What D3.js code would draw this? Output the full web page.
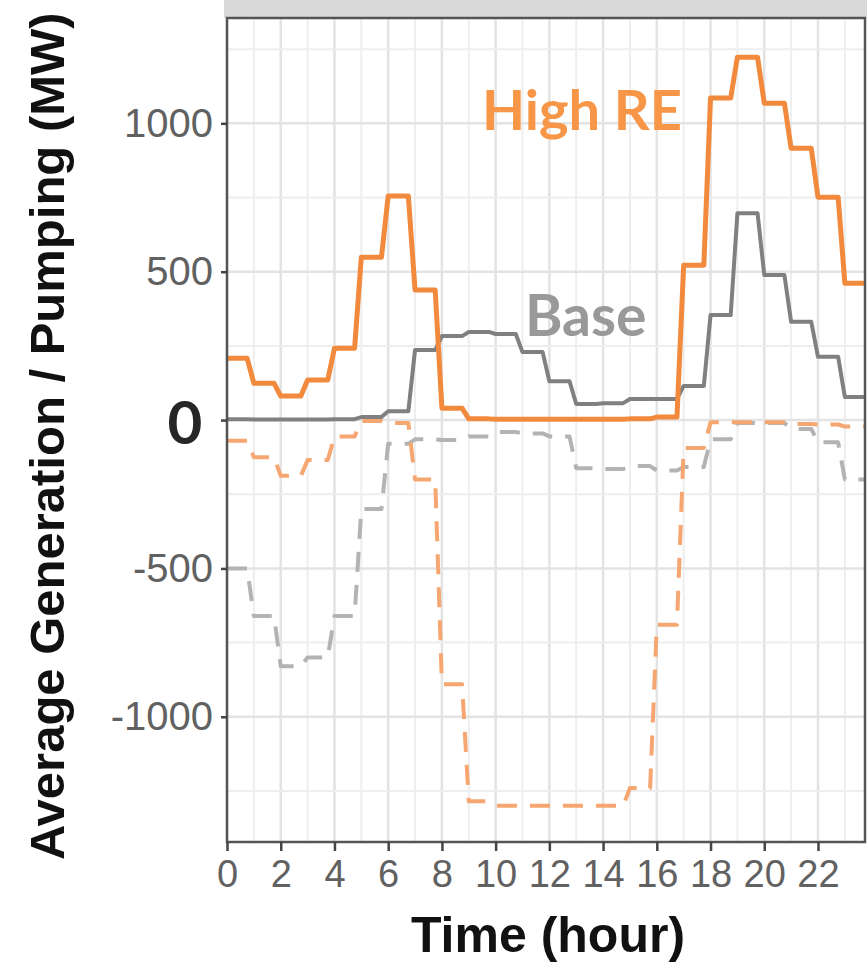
<!DOCTYPE html>
<html>
<head>
<meta charset="utf-8">
<script src="https://cdn.jsdelivr.net/npm/d3@7"></script>
<style>
  body { margin: 0; background: #fff; }
  #chart svg { display: block; }
</style>
</head>
<body>
<div id="chart"></div>
<script>
// hourly values (MW)
const hours = [0, 1, 2, 3, 4, 5, 6, 7, 8, 9, 10, 11, 12, 13, 14, 15, 16, 17, 18, 19, 20, 21, 22, 23]
const highREGen = [208, 124, 81, 135, 242, 549, 755, 438, 40, 4, 3, 3, 3, 3, 3, 4, 10, 522, 1085, 1223, 1068, 916, 751, 461]
const baseGen = [3, 2, 2, 2, 3, 10, 30, 236, 283, 297, 290, 229, 131, 54, 57, 71, 71, 115, 354, 697, 489, 331, 213, 78]
const highREPump = [-70, -125, -188, -135, -55, -3, -10, -200, -890, -1285, -1300, -1300, -1300, -1300, -1300, -1240, -690, -94, -7, -7, -7, -13, -15, -22]
const basePump = [-500, -660, -830, -800, -660, -300, -80, -65, -67, -55, -40, -45, -55, -162, -165, -155, -170, -158, -65, -10, -10, -30, -75, -200]

const xTicks = [0, 2, 4, 6, 8, 10, 12, 14, 16, 18, 20, 22]
const yTicks = [-1000, -500, 0, 500, 1000]
const yMinor = [-1250, -750, -250, 250, 750, 1250]

const W = 867
const H = 964
const panel = { left: 227, right: 865, top: 18, bottom: 842 }

const svg = d3.select('#chart')
  .append('svg')
  .attr('width', W)
  .attr('height', H)

const x = d3.scaleLinear()
  .domain([0, 23.75])
  .range([panel.left, panel.right])

const y = d3.scaleLinear()
  .domain([-1422, 1355])
  .range([panel.bottom, panel.top])

// strip on top of the panel
svg.append('rect')
  .attr('x', 224)
  .attr('y', 0)
  .attr('width', W - 224)
  .attr('height', panel.top)
  .attr('fill', '#d9d9d9')

// grid
const grid = svg.append('g')
grid.selectAll('.vgrid')
  .data(hours)
  .enter()
  .append('line')
  .attr('x1', d => x(d))
  .attr('x2', d => x(d))
  .attr('y1', panel.top)
  .attr('y2', panel.bottom)
  .attr('stroke', d => d % 2 === 0 ? '#e3e3e3' : '#eeeeee')
  .attr('stroke-width', d => d % 2 === 0 ? 2.5 : 2)

grid.selectAll('.hminor')
  .data(yMinor)
  .enter()
  .append('line')
  .attr('x1', panel.left)
  .attr('x2', panel.right)
  .attr('y1', d => y(d))
  .attr('y2', d => y(d))
  .attr('stroke', '#eeeeee')
  .attr('stroke-width', 2)

grid.selectAll('.hmajor')
  .data(yTicks)
  .enter()
  .append('line')
  .attr('x1', panel.left)
  .attr('x2', panel.right)
  .attr('y1', d => y(d))
  .attr('y2', d => y(d))
  .attr('stroke', '#e3e3e3')
  .attr('stroke-width', 2.5)

// each hour is held for three quarters, then the line moves to the next hour
function hourPoints (values) {
  const pts = []
  values.forEach((v, i) => {
    pts.push([hours[i], v])
    pts.push([hours[i] + 0.75, v])
  })
  return pts
}

const line = d3.line()
  .x(d => x(d[0]))
  .y(d => y(d[1]))

const series = [
  { values: basePump, color: '#b3b3b3', width: 4, dash: '20,13' },
  { values: baseGen, color: '#808080', width: 4, dash: null },
  { values: highREPump, color: '#f6a670', width: 4, dash: '20,13' },
  { values: highREGen, color: '#f28a3d', width: 5, dash: null }
]

series.forEach(s => {
  svg.append('path')
    .datum(hourPoints(s.values))
    .attr('d', line)
    .attr('fill', 'none')
    .attr('stroke', s.color)
    .attr('stroke-width', s.width)
    .attr('stroke-linejoin', 'round')
    .attr('stroke-dasharray', s.dash)
})

// panel border
svg.append('rect')
  .attr('x', panel.left)
  .attr('y', panel.top)
  .attr('width', panel.right - panel.left)
  .attr('height', panel.bottom - panel.top)
  .attr('fill', 'none')
  .attr('stroke', '#555')
  .attr('stroke-width', 2.5)

// axes
const xAxis = svg.append('g')
  .attr('transform', `translate(0,${panel.bottom})`)
  .call(d3.axisBottom(x).tickValues(xTicks).tickSize(9).tickPadding(9))
xAxis.select('.domain').remove()
xAxis.selectAll('line').attr('stroke', '#444').attr('stroke-width', 2.5)
xAxis.selectAll('text')
  .attr('fill', '#616161')
  .style('font-family', 'Liberation Sans, Arial, sans-serif')
  .style('font-size', '38px')

const yAxis = svg.append('g')
  .attr('transform', `translate(${panel.left},0)`)
  .call(d3.axisLeft(y).tickValues(yTicks).tickSize(6).tickPadding(8)
    .tickFormat(d => d === 0 ? '' : d))
yAxis.select('.domain').remove()
yAxis.selectAll('line').attr('stroke', '#444').attr('stroke-width', 2.5)
yAxis.selectAll('text')
  .attr('fill', '#616161')
  .style('font-family', 'Liberation Sans, Arial, sans-serif')
  .style('font-size', '40px')

// axis titles
svg.append('text')
  .attr('transform', `translate(64,860) rotate(-90)`)
  .attr('text-anchor', 'start')
  .style('font-family', 'Liberation Sans, Arial, sans-serif')
  .style('font-weight', 'bold')
  .style('font-size', '49px')
  .attr('fill', '#111')
  .text('Average Generation / Pumping (MW)')

svg.append('text')
  .attr('x', 548)
  .attr('y', 952)
  .attr('text-anchor', 'middle')
  .style('font-family', 'Liberation Sans, Arial, sans-serif')
  .style('font-weight', 'bold')
  .style('font-size', '50px')
  .attr('fill', '#111')
  .text('Time (hour)')

// annotations
svg.append('text')
  .attr('x', 482)
  .attr('y', 130)
  .style('font-family', 'Lato, Open Sans, sans-serif')
  .style('font-weight', 'bold')
  .style('font-size', '56px')
  .attr('fill', '#f79646')
  .text('High RE')

svg.append('text')
  .attr('x', 525)
  .attr('y', 336)
  .style('font-family', 'Lato, Open Sans, sans-serif')
  .style('font-weight', 'bold')
  .style('font-size', '57px')
  .attr('fill', '#999999')
  .text('Base')

svg.append('text')
  .attr('x', 185)
  .attr('y', 444)
  .attr('text-anchor', 'middle')
  .style('font-family', 'Lato, Open Sans, sans-serif')
  .style('font-weight', 'bold')
  .style('font-size', '60px')
  .attr('fill', '#262626')
  .text('0')
</script>
</body>
</html>
